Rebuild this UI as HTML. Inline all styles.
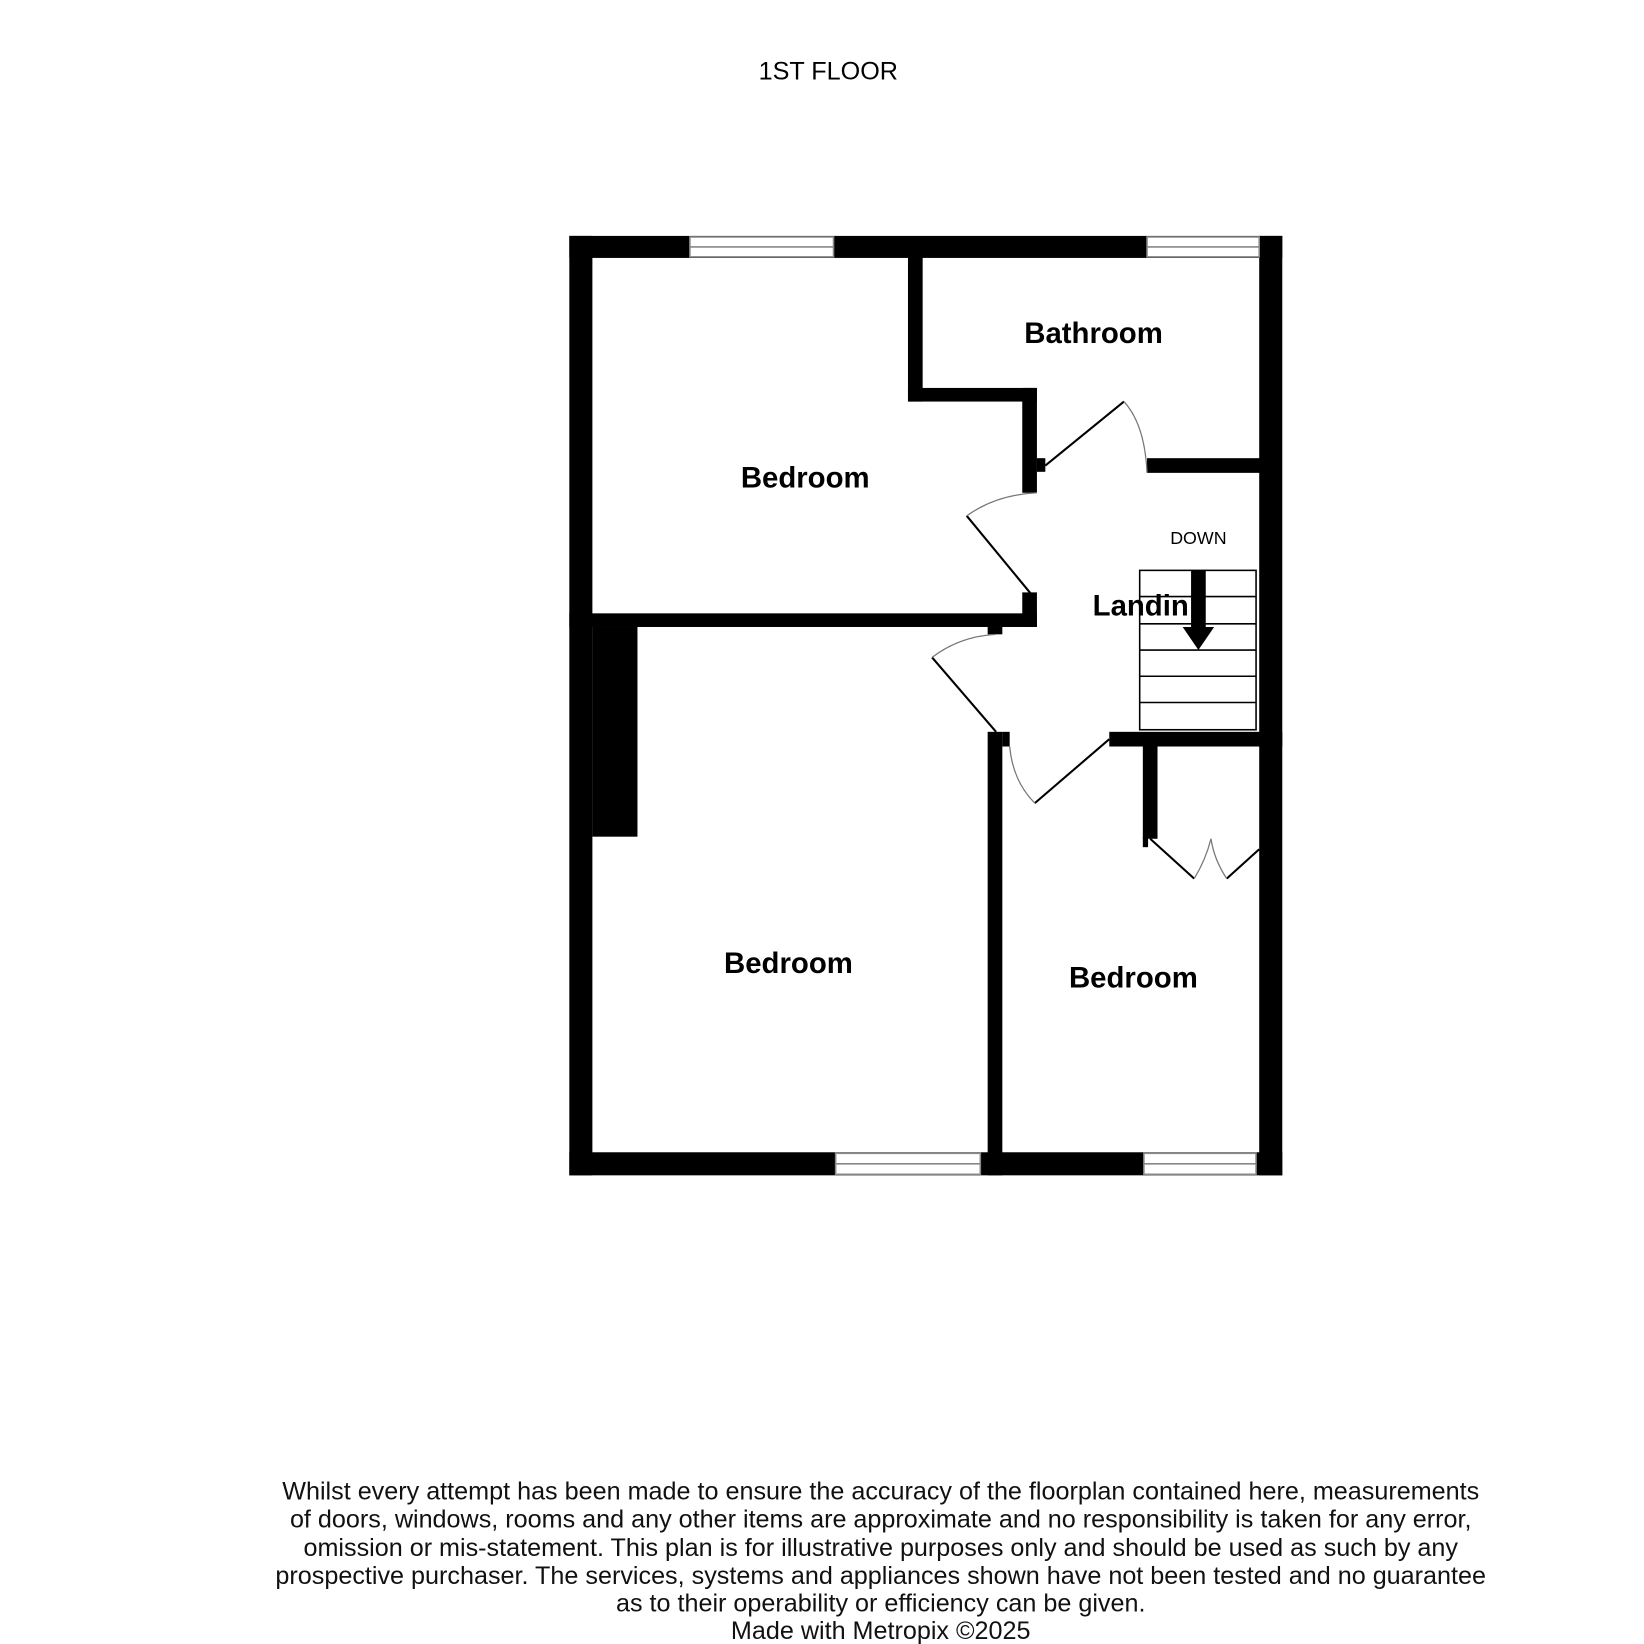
<!DOCTYPE html>
<html><head><style>html,body{margin:0;padding:0;background:#fff}svg{display:block}</style></head>
<body>
<svg width="1644" height="1644" viewBox="0 0 1568 1568" xmlns="http://www.w3.org/2000/svg" font-family="Liberation Sans, sans-serif">
<rect width="1568" height="1568" fill="#fff"/>
<text x="790" y="76" font-size="24" text-anchor="middle">1ST FLOOR</text>
<g fill="#000">
<rect x="543" y="225" width="22" height="896"/>
<rect x="1201" y="225" width="22" height="896"/>
<rect x="543" y="225" width="680" height="21"/>
<rect x="543" y="1099" width="680" height="22"/>
<rect x="866" y="240" width="14" height="143"/>
<rect x="866" y="370" width="123" height="13"/>
<rect x="975" y="370" width="14" height="100"/>
<rect x="989" y="437" width="8" height="13"/>
<rect x="1094" y="437" width="110" height="14"/>
<rect x="975" y="565" width="14" height="33"/>
<rect x="543" y="585" width="446" height="13"/>
<rect x="565" y="598" width="43" height="200"/>
<rect x="942" y="598" width="14" height="7"/>
<rect x="942" y="698" width="14" height="423"/>
<rect x="956" y="698" width="7" height="14"/>
<rect x="1058" y="698" width="165" height="14"/>
<rect x="1090" y="712" width="14" height="88"/>
<rect x="1090" y="798" width="5" height="10"/>
</g>
<g fill="#fff" stroke="#888" stroke-width="1.5">
<rect x="658" y="226" width="137" height="19"/>
<line x1="658" y1="235.5" x2="795" y2="235.5"/>
<rect x="1094" y="226" width="107" height="19"/>
<line x1="1094" y1="235.5" x2="1201" y2="235.5"/>
<rect x="797" y="1100" width="138" height="20"/>
<line x1="797" y1="1110" x2="935" y2="1110"/>
<rect x="1091" y="1100" width="107" height="20"/>
<line x1="1091" y1="1110" x2="1198" y2="1110"/>
</g>
<g fill="none" stroke="#000" stroke-width="2">
<line x1="997" y1="444" x2="1072" y2="383"/>
<line x1="983" y1="566" x2="922" y2="492"/>
<line x1="950" y1="698" x2="889" y2="627"/>
<line x1="987" y1="766" x2="1058" y2="705"/>
<line x1="1097" y1="800" x2="1139" y2="838"/>
<line x1="1170" y1="838" x2="1201" y2="810"/>
</g>
<g fill="none" stroke="#777" stroke-width="1.2">
<path d="M1072 383 Q1092 405 1094 451"/>
<path d="M922 492 Q950 472 989 470"/>
<path d="M889 627 Q915 607 950 605"/>
<path d="M963 712 Q966 745 987 766"/>
<path d="M1139 838 Q1150 820 1155 800"/>
<path d="M1155 800 Q1158 820 1170 838"/>
</g>
<g fill="none" stroke="#000" stroke-width="1.5">
<rect x="1087" y="544" width="111" height="152"/>
<line x1="1087" y1="569" x2="1198" y2="569"/>
<line x1="1087" y1="595" x2="1198" y2="595"/>
<line x1="1087" y1="620" x2="1198" y2="620"/>
<line x1="1087" y1="645" x2="1198" y2="645"/>
<line x1="1087" y1="670" x2="1198" y2="670"/>
</g>
<text x="1088" y="587" font-size="28" font-weight="bold" text-anchor="middle">Landin</text>
<rect x="1136" y="544" width="14" height="56" fill="#000"/>
<polygon points="1128,598 1158,598 1143,620" fill="#000"/>
<text x="1143" y="519" font-size="17" text-anchor="middle">DOWN</text>
<g font-size="28" font-weight="bold" text-anchor="middle">
<text x="1043" y="327">Bathroom</text>
<text x="768" y="465">Bedroom</text>
<text x="752" y="928">Bedroom</text>
<text x="1081" y="942">Bedroom</text>
</g>
<g font-size="24" text-anchor="middle" fill="#111">
<text x="840" y="1430">Whilst every attempt has been made to ensure the accuracy of the floorplan contained here, measurements</text>
<text x="840" y="1457">of doors, windows, rooms and any other items are approximate and no responsibility is taken for any error,</text>
<text x="840" y="1484">omission or mis-statement. This plan is for illustrative purposes only and should be used as such by any</text>
<text x="840" y="1511">prospective purchaser. The services, systems and appliances shown have not been tested and no guarantee</text>
<text x="840" y="1537">as to their operability or efficiency can be given.</text>
<text x="840" y="1563">Made with Metropix ©2025</text>
</g>
</svg>
</body></html>
